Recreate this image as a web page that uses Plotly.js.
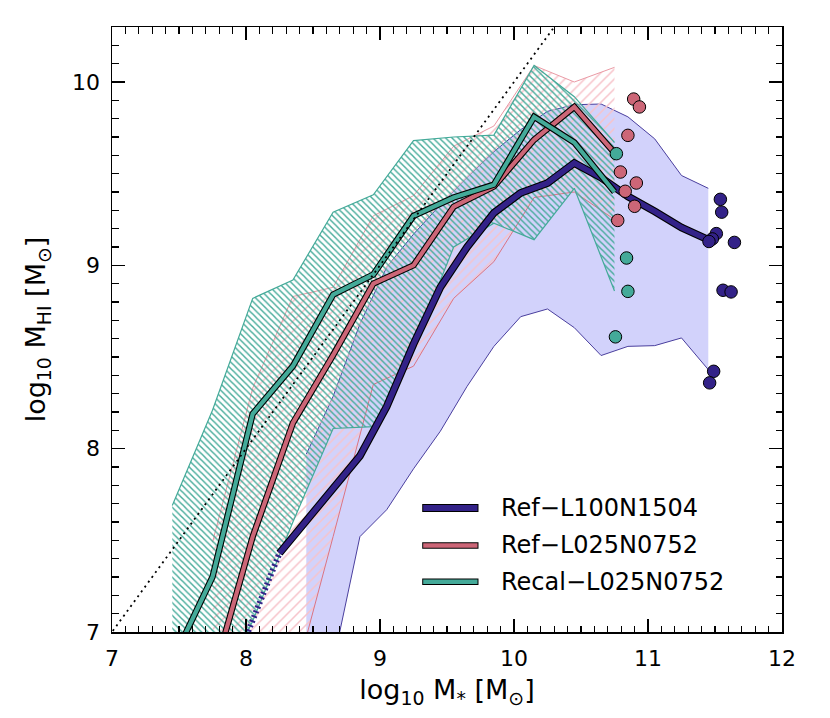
<!DOCTYPE html>
<html>
<head>
<meta charset="utf-8">
<script src="https://cdn.plot.ly/plotly-3.0.1.min.js"></script>
<style>html,body{margin:0;padding:0;background:#fff;}#chart{width:830px;height:718px;}</style>
</head>
<body>
<div id="chart"></div>
<script>
// ---------- data (log10 stellar mass bins / log10 HI mass) ----------
// Recal-L025N0752 (0.3 dex bins)
const recalX      = [7.45, 7.75, 8.05, 8.35, 8.65, 8.95, 9.25, 9.55, 9.85, 10.15, 10.45, 10.75];
const recalMedian = [6.84, 7.30, 8.19, 8.45, 8.84, 8.95, 9.27, 9.37, 9.44, 9.81, 9.67, 9.40];
const recalUpper  = [7.69, 8.21, 8.82, 8.92, 9.29, 9.385, 9.68, 9.70, 9.71, 10.09, 9.92, 9.67];
const recalLower  = [6.50, 6.60, 7.06, 7.60, 8.11, 8.12, 8.55, 9.10, 9.23, 9.14, 9.42, 8.86];

// Ref-L025N0752 (0.3 dex bins)
const ref25X      = [7.75, 8.05, 8.35, 8.65, 8.95, 9.25, 9.55, 9.85, 10.15, 10.45, 10.75];
const ref25Median = [6.75, 7.52, 8.14, 8.51, 8.90, 9.00, 9.32, 9.43, 9.685, 9.864, 9.613];
const ref25Upper  = [7.49, 8.33, 8.83, 8.88, 9.27, 9.38, 9.65, 9.76, 10.09, 10.00, 10.08];
const ref25Lower  = [6.30, 6.50, 6.70, 7.52, 8.35, 8.45, 8.82, 9.02, 9.37, 9.40, 9.25];

// Ref-L100N1504 (0.2 dex bins)
const ref100X      = [7.85, 8.05, 8.25, 8.45, 8.65, 8.85, 9.05, 9.25, 9.45, 9.65, 9.85, 10.05, 10.25, 10.45, 10.65, 10.85, 11.05, 11.25, 11.45];
const ref100Median = [6.70, 7.06, 7.43, 7.61, 7.78, 7.96, 8.23, 8.57, 8.88, 9.10, 9.286, 9.395, 9.449, 9.558, 9.478, 9.376, 9.294, 9.206, 9.14];
const ref100PoorBins = 3; // first bins drawn as a broken line
const ref100BandX     = [8.45, 8.65, 8.85, 9.05, 9.25, 9.45, 9.65, 9.85, 10.05, 10.25, 10.45, 10.65, 10.85, 11.05, 11.25, 11.45];
const ref100BandUpper = [7.97, 8.285, 8.68, 8.99, 9.17, 9.33, 9.48, 9.62, 9.74, 9.84, 9.876, 9.88, 9.81, 9.69, 9.49, 9.42];
const ref100BandLower = [6.50, 6.83, 7.52, 7.667, 7.89, 8.095, 8.34, 8.558, 8.72, 8.762, 8.66, 8.508, 8.558, 8.562, 8.604, 8.431];

// individual galaxies beyond the last bin
const ref100PtsX = [11.54, 11.55, 11.51, 11.48, 11.455, 11.645, 11.56, 11.62, 11.49, 11.46];
const ref100PtsY = [9.36, 9.29, 9.173, 9.144, 9.13, 9.125, 8.864, 8.855, 8.422, 8.359];
const ref25PtsX  = [10.893, 10.936, 10.85, 10.794, 10.913, 10.83, 10.90, 10.774];
const ref25PtsY  = [9.907, 9.864, 9.709, 9.509, 9.449, 9.404, 9.322, 9.245];
const recalPtsX  = [10.764, 10.84, 10.85, 10.757];
const recalPtsY  = [9.609, 9.04, 8.858, 8.61];

// one-to-one relation
const oneToOne = [6.9, 10.4];

const seriesNames = ['Ref\u2212L100N1504', 'Ref\u2212L025N0752', 'Recal\u2212L025N0752'];
const xTicks = [7, 8, 9, 10, 11, 12];
const yTicks = [7, 8, 9, 10];

// ---------- styling ----------
const NAVY = '#332288', ROSE = '#CC6677', TEAL = '#44AA99';
const FONT = 'DejaVu Sans, Verdana, sans-serif';

function polygon(x, lo, hi) {
  return { x: x.concat(x.slice().reverse()), y: lo.concat(hi.slice().reverse()) };
}
function edge(x, y, color, w) {
  return { x: x, y: y, type: 'scatter', mode: 'lines', line: { color: color, width: w }, hoverinfo: 'skip', showlegend: false };
}
function median(x, y, color, w) {
  return [
    { x: x, y: y, type: 'scatter', mode: 'lines', line: { color: '#000', width: w + 2.2 }, showlegend: false, hoverinfo: 'skip' },
    { x: x, y: y, type: 'scatter', mode: 'lines', line: { color: color, width: w }, showlegend: false }
  ];
}
function pts(x, y, color) {
  return { x: x, y: y, type: 'scatter', mode: 'markers', showlegend: false, cliponaxis: true,
           marker: { color: color, size: 12.5, line: { color: '#000', width: 1 } } };
}

const blueBand = polygon(ref100BandX, ref100BandLower, ref100BandUpper);
const redBand = polygon(ref25X, ref25Lower, ref25Upper);
const greenBand = polygon(recalX, recalLower, recalUpper);

const traces = [];
traces.push({ x: blueBand.x, y: blueBand.y, type: 'scatter', mode: 'none', fill: 'toself',
              fillcolor: '#d2d2fb', showlegend: false, hoverinfo: 'skip' });
traces.push(edge(ref100BandX, ref100BandUpper, '#4a3f9e', 1));
traces.push(edge(ref100BandX, ref100BandLower, '#4a3f9e', 1));
traces.push({ x: redBand.x, y: redBand.y, type: 'scatter', mode: 'none', fill: 'toself',
              fillcolor: 'rgba(0,0,0,0)',
              fillpattern: { shape: '/', fgcolor: '#f7c3ca', bgcolor: 'rgba(0,0,0,0)', size: 7, solidity: 0.22 },
              showlegend: false, hoverinfo: 'skip' });
traces.push(edge(ref25X, ref25Upper, '#ea9aa5', 1));
traces.push(edge(ref25X, ref25Lower, '#dc7482', 1));
traces.push({ x: greenBand.x, y: greenBand.y, type: 'scatter', mode: 'none', fill: 'toself',
              fillcolor: 'rgba(0,0,0,0)',
              fillpattern: { shape: '\\', fgcolor: TEAL, bgcolor: 'rgba(0,0,0,0)', size: 4.5, solidity: 0.32 },
              showlegend: false, hoverinfo: 'skip' });
traces.push(edge(recalX, recalUpper, TEAL, 1.2));
traces.push(edge(recalX, recalLower, TEAL, 1.2));

// Ref-L100N1504 poorly sampled bins: broken line
traces.push({ x: ref100X.slice(0, ref100PoorBins), y: ref100Median.slice(0, ref100PoorBins), type: 'scatter', mode: 'lines',
              line: { color: NAVY, width: 6, dash: '2px,3px' }, showlegend: false, hoverinfo: 'skip' });
median(ref100X.slice(ref100PoorBins - 1), ref100Median.slice(ref100PoorBins - 1), NAVY, 5.5).forEach(t => traces.push(t));
median(ref25X, ref25Median, ROSE, 4.2).forEach(t => traces.push(t));
median(recalX, recalMedian, TEAL, 4.2).forEach(t => traces.push(t));

traces.push({ x: oneToOne, y: oneToOne, type: 'scatter', mode: 'lines',
              line: { color: '#000', width: 1.8, dash: '2px,4px' }, showlegend: false, hoverinfo: 'skip' });

traces.push(pts(ref100PtsX, ref100PtsY, NAVY));
traces.push(pts(ref25PtsX, ref25PtsY, ROSE));
traces.push(pts(recalPtsX, recalPtsY, TEAL));

// ---------- legend (drawn in paper space) ----------
const legendColors = [NAVY, ROSE, TEAL];
const legendWidths = [6, 4.5, 4.5];
const legendY = [0.205, 0.143, 0.083];
const shapes = [], annotations = [];
seriesNames.forEach((name, i) => {
  shapes.push({ type: 'line', xref: 'paper', yref: 'paper', x0: 0.463, x1: 0.547, y0: legendY[i], y1: legendY[i],
                line: { color: '#000', width: legendWidths[i] + 2 } });
  shapes.push({ type: 'line', xref: 'paper', yref: 'paper', x0: 0.4645, x1: 0.5455, y0: legendY[i], y1: legendY[i],
                line: { color: legendColors[i], width: legendWidths[i] } });
  annotations.push({ xref: 'paper', yref: 'paper', x: 0.577, y: legendY[i], xanchor: 'left', yanchor: 'middle',
                     text: name, showarrow: false, font: { family: FONT, size: 24, color: '#000' } });
});

const axisCommon = {
  showgrid: false, zeroline: false, showline: true, linecolor: '#000', linewidth: 1.5,
  mirror: 'ticks', ticks: 'inside', ticklen: 13, tickwidth: 1.5, tickcolor: '#000',
  minor: { dtick: 0.1, ticks: 'inside', ticklen: 6.5, tickwidth: 1.2, tickcolor: '#000', showgrid: false },
  tickfont: { family: FONT, size: 22, color: '#000' }
};

const layout = {
  width: 830, height: 718,
  margin: { l: 112, r: 48, t: 27, b: 86 },
  paper_bgcolor: '#fff', plot_bgcolor: '#fff',
  showlegend: false,
  xaxis: Object.assign({}, axisCommon, {
    range: [7, 12], tickvals: xTicks, ticktext: xTicks.map(String), ticklabelstandoff: 6,
    title: { text: 'log<sub>10</sub> M<sub>*</sub> [M<sub>\u2299</sub>]', font: { family: FONT, size: 27, color: '#000' }, standoff: 10 }
  }),
  yaxis: Object.assign({}, axisCommon, {
    range: [7, 10.3], tickvals: yTicks, ticktext: yTicks.map(String), ticklabelstandoff: 6,
    title: { text: 'log<sub>10</sub> M<sub>HI</sub> [M<sub>\u2299</sub>]', font: { family: FONT, size: 27, color: '#000' }, standoff: 18 }
  }),
  shapes: shapes,
  annotations: annotations
};

Plotly.newPlot('chart', traces, layout, { displayModeBar: false, staticPlot: true });
</script>
</body>
</html>
